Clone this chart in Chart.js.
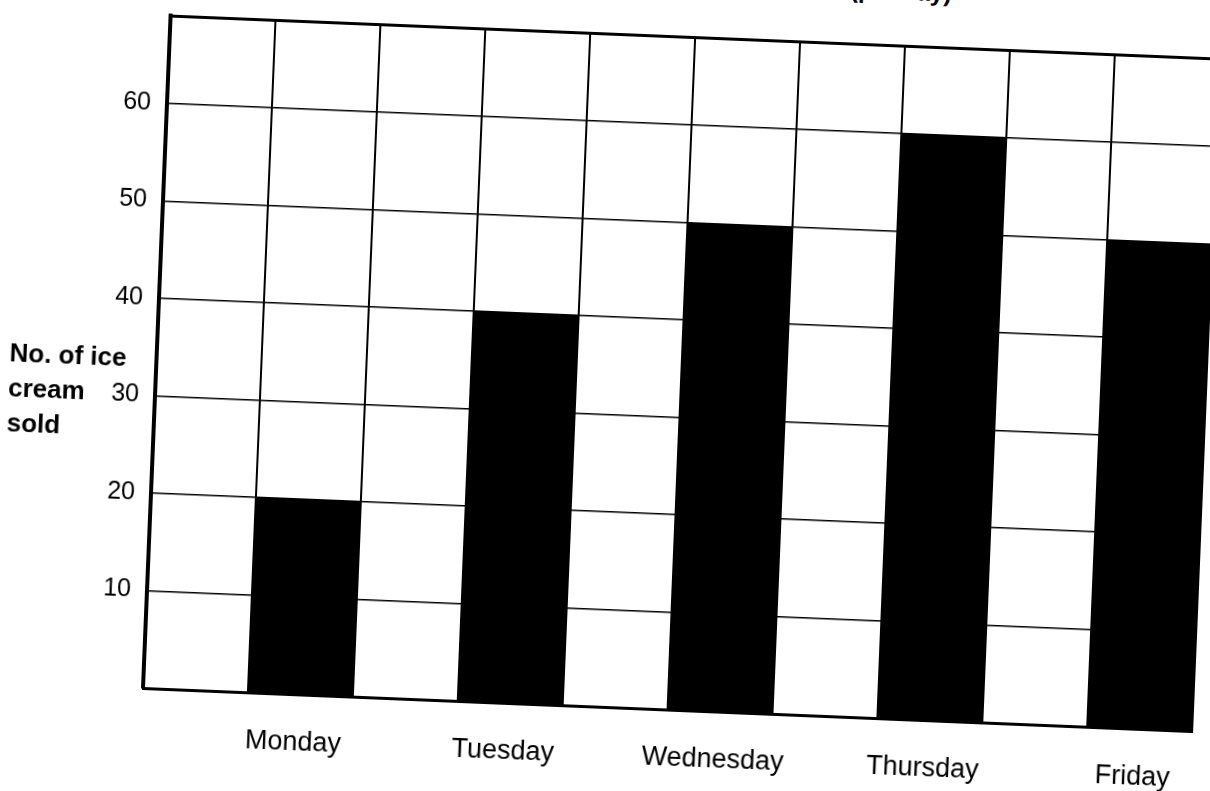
<!DOCTYPE html>
<html>
<head>
<meta charset="utf-8">
<style>
  html, body { margin: 0; padding: 0; background: #fff; overflow: hidden; width: 1210px; height: 791px; }
  #wrap { position: absolute; left: 0; top: 0; width: 1240px; height: 800px; }
  #chart { position: absolute; left: 0; top: 0; }
  #ylab { position: absolute; font: bold 26px "Liberation Sans", Arial, sans-serif; line-height: 35px; color: #000; white-space: nowrap; }
  #ttl { position: absolute; font: bold 24px "Liberation Sans", Arial, sans-serif; line-height: 24px; color: #000; white-space: nowrap; }
</style>
<script src="https://cdn.jsdelivr.net/npm/chart.js@4.4.1/dist/chart.umd.min.js"></script>
</head>
<body>
<div id="wrap">
  <canvas id="chart" width="1240" height="800"></canvas>
  <div id="ylab"></div>
  <div id="ttl"></div>
</div>
<script>
// ---- data ----
const categories = ['Monday', 'Tuesday', 'Wednesday', 'Thursday', 'Friday'];
const iceCreamsSold = [20, 40, 50, 60, 50];
const yTickValues = [0, 10, 20, 30, 40, 50, 60, 69];
const yAxisTitle = ['No. of ice', 'cream', 'sold'];
const chartTitle = '(per day)';

// ---- page layout (the scanned chart is slightly rotated) ----
const ANGLE_DEG = 2.35;
const ORIGIN = { x: 143, y: 688 };
const PLOT_HEIGHT = 672.75;
let xAxisHeight = 96;

document.getElementById('ylab').innerHTML = yAxisTitle.join('<br>');
document.getElementById('ttl').textContent = chartTitle;

const yMax = yTickValues[yTickValues.length - 1];
const FONT = 'Liberation Sans';

function place(chart) {
  const a = chart.chartArea;
  const wrap = document.getElementById('wrap');
  wrap.style.left = (ORIGIN.x - a.left) + 'px';
  wrap.style.top = (ORIGIN.y - a.bottom) + 'px';
  wrap.style.transformOrigin = a.left + 'px ' + a.bottom + 'px';
  wrap.style.transform = 'rotate(' + ANGLE_DEG + 'deg)';
  const yl = document.getElementById('ylab');
  yl.style.left = (a.left - 147) + 'px';
  yl.style.top = (a.bottom - 347) + 'px';
  const t = document.getElementById('ttl');
  t.style.left = (a.left + 678) + 'px';
  t.style.top = (a.bottom - 739) + 'px';
}

const chart = new Chart(document.getElementById('chart'), {
  type: 'bar',
  data: {
    labels: categories,
    datasets: [
      { label: 'spacer', data: categories.map(() => null), backgroundColor: '#fff' },
      { label: 'No. of ice cream sold', data: iceCreamsSold, backgroundColor: '#000', borderWidth: 0 }
    ]
  },
  options: {
    responsive: false,
    animation: false,
    barPercentage: 1,
    categoryPercentage: 1,
    layout: { padding: { top: 0, left: 0, right: 30, bottom: 0 } },
    plugins: { legend: { display: false }, tooltip: { enabled: false } },
    scales: {
      x: {
        type: 'category',
        position: 'bottom',
        offset: true,
        grid: { display: false },
        border: { display: true, color: '#000', width: 3 },
        ticks: {
          color: '#000', font: { family: FONT, size: 27 },
          padding: 24, labelOffset: 47, maxRotation: 0, autoSkip: false
        },
        afterFit: s => { s.height = xAxisHeight; }
      },
      x2: {
        type: 'category',
        labels: categories.flatMap(c => [c + ' ', c]),
        position: 'top',
        offset: true,
        grid: { display: true, offset: true, color: '#000', lineWidth: 2, drawTicks: false },
        border: { display: false },
        ticks: { display: false },
        afterFit: s => { s.height = 0; }
      },
      y: {
        min: 0,
        max: yMax,
        afterBuildTicks: s => { s.ticks = yTickValues.map(v => ({ value: v })); },
        grid: {
          color: '#000',
          lineWidth: c => (c.tick && c.tick.value === yMax) ? 3 : 1.6,
          drawTicks: false
        },
        border: { display: true, color: '#000', width: 4 },
        ticks: {
          color: '#000', font: { family: FONT, size: 25 }, padding: 16,
          callback: v => (v === 0 || v === yMax) ? '' : String(v)
        },
        afterFit: s => { s.width = 160; }
      }
    }
  }
});

// make the plot area exactly the measured height
for (let i = 0; i < 4; i++) {
  const a = chart.chartArea;
  const diff = (a.bottom - a.top) - PLOT_HEIGHT;
  if (Math.abs(diff) < 0.3) break;
  xAxisHeight += diff;
  chart.update();
}
place(chart);
</script>
</body>
</html>
